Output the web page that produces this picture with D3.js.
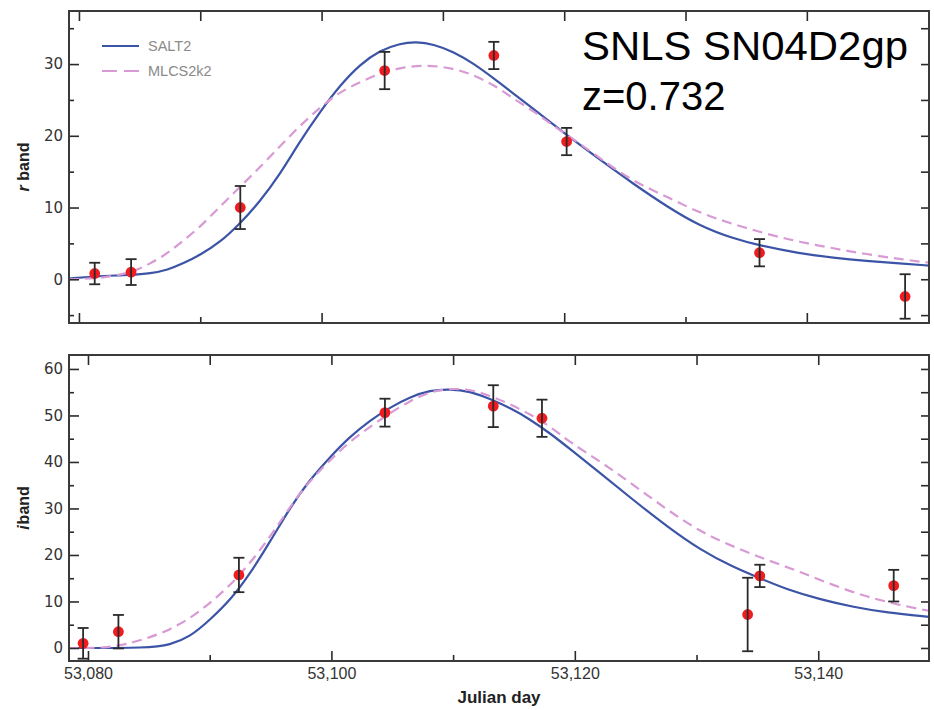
<!DOCTYPE html>
<html><head><meta charset="utf-8">
<script src="https://cdn.jsdelivr.net/npm/d3@7"></script>
<style>body{margin:0;background:#fff} svg{display:block;background:#fff}</style>
</head><body><svg id="c" width="934" height="710"></svg>
<script>
// ---------- DATA ----------
// r band observations
const rDays = [53081.3, 53084.3, 53093.3, 53105.2, 53114.2, 53120.2, 53136.1, 53148.1];
const rFlux = [0.8, 1.0, 10.0, 29.1, 31.2, 19.2, 3.7, -2.4];
const rErr  = [1.5, 1.8, 3.0, 2.6, 1.9, 1.9, 1.9, 3.1];
// i band observations
const iDays = [53079.6, 53082.5, 53092.4, 53104.4, 53113.3, 53117.3, 53134.2, 53135.2, 53146.2];
const iFlux = [1.0, 3.5, 15.7, 50.6, 52.0, 49.4, 7.2, 15.5, 13.4];
const iErr  = [3.3, 3.6, 3.7, 3.0, 4.5, 4.0, 7.9, 2.4, 3.4];

// r band model curves
const rSaltDays = [53079.2,53081.2,53084.3,53085.9,53087.3,53088.6,53090.0,53091.6,53093.3,53094.9,53096.6,53098.2,53099.9,53101.5,53103.2,53104.8,53106.5,53107.8,53109.2,53110.9,53112.5,53114.2,53115.8,53117.5,53119.1,53120.2,53123.0,53125.7,53128.5,53131.2,53133.9,53136.1,53139.4,53142.2,53144.9,53147.7,53150.1];
const rSaltFlux = [0.1,0.4,0.6,0.8,1.3,2.2,3.4,5.1,7.8,10.8,14.7,19.2,23.4,27.0,30.0,31.9,32.9,33.1,32.8,31.7,30.1,28.0,25.9,23.7,21.6,20.1,16.6,13.3,10.1,7.4,5.7,4.7,3.6,3.0,2.55,2.2,1.9];
const rMlcsDays = [53079.2,53081.7,53084.3,53085.9,53087.3,53088.6,53090.0,53091.6,53093.3,53095.5,53097.7,53099.9,53101.5,53103.2,53104.8,53106.5,53108.7,53110.9,53112.5,53114.2,53115.8,53117.5,53119.1,53121.3,53123.0,53125.7,53128.5,53131.2,53133.9,53136.7,53139.4,53142.2,53144.9,53147.7,53150.1];
const rMlcsFlux = [0.0,0.1,0.9,2.2,3.6,5.4,7.3,10.1,12.9,16.6,20.6,24.0,26.1,27.5,28.7,29.5,29.9,29.4,28.5,27.1,25.2,23.4,21.4,18.9,16.8,13.6,11.5,9.2,7.7,6.3,5.2,4.3,3.5,2.8,2.3];

// i band model curves
const iSaltDays = [53078.4,53085.1,53086.7,53088.4,53090.0,53091.7,53093.3,53095.0,53096.6,53098.2,53099.9,53101.5,53103.2,53104.8,53106.5,53108.1,53109.7,53111.4,53113.0,53114.7,53116.3,53118.0,53119.6,53122.1,53124.8,53127.6,53130.3,53133.0,53135.2,53137.4,53140.2,53142.9,53145.6,53149.1];
const iSaltFlux = [0.0,0.0,0.65,2.4,6.0,10.3,15.9,23.0,30.2,36.1,41.1,45.4,49.0,51.7,54.0,55.4,55.7,55.2,53.6,51.6,49.2,46.1,42.8,37.6,31.8,26.1,21.1,17.4,15.0,12.6,10.4,8.8,7.6,6.7];
const iMlcsDays = [53078.4,53081.8,53083.7,53085.1,53086.7,53088.4,53090.0,53091.7,53093.3,53095.0,53096.6,53098.2,53099.9,53101.5,53103.2,53104.8,53106.5,53108.1,53109.7,53111.4,53113.0,53114.7,53116.3,53118.0,53119.6,53122.1,53124.8,53127.6,53130.3,53133.0,53135.8,53138.5,53141.2,53144.0,53146.7,53149.1];
const iMlcsFlux = [0.0,0.0,1.2,2.3,3.9,6.4,9.6,13.5,18.2,24.0,30.4,35.9,40.4,44.4,47.6,50.5,53.2,55.1,55.8,55.6,54.3,52.4,50.3,47.6,44.2,40.1,35.1,29.7,25.0,21.8,18.9,16.4,13.5,11.0,9.2,8.0];

// ticks
const xTickValues = [53080, 53090, 53100, 53110, 53120, 53130, 53140];
const xLabelValues = [53080, 53100, 53120, 53140];
const rMajor = [0, 10, 20, 30];
const rMinor = [-5, 5, 15, 25, 35];
const iMajor = [0, 10, 20, 30, 40, 50, 60];
const iMinor = [5, 15, 25, 35, 45, 55];
const seriesNames = ["SALT2", "MLCS2k2"];

// ---------- LAYOUT ----------
const svg = d3.select("#c");
const L = 69, R = 929;
const blue = "#3b54a6", pink = "#d89ad4", red = "#f01c20", ink = "#2a2a2a";
const tickFont = "DejaVu Sans, sans-serif";

const panels = [
  { top: 11, bottom: 323, xDom: [53079.18, 53150.07], yDom: [-6.1, 37.4],
    major: rMajor, minor: rMinor, days: rDays, flux: rFlux, err: rErr,
    salt: [rSaltDays, rSaltFlux], mlcs: [rMlcsDays, rMlcsFlux], labels: false, id: "r" },
  { top: 355, bottom: 661, xDom: [53078.44, 53149.1], yDom: [-2.8, 63.0],
    major: iMajor, minor: iMinor, days: iDays, flux: iFlux, err: iErr,
    salt: [iSaltDays, iSaltFlux], mlcs: [iMlcsDays, iMlcsFlux], labels: true, id: "i" }
];

panels.forEach(p => {
  const x = d3.scaleLinear().domain(p.xDom).range([L, R]);
  const y = d3.scaleLinear().domain(p.yDom).range([p.bottom, p.top]);
  const g = svg.append("g");

  g.append("clipPath").attr("id", "clip-" + p.id)
    .append("rect").attr("x", L).attr("y", p.top).attr("width", R - L).attr("height", p.bottom - p.top);

  const line = d3.line().x(d => x(d[0])).y(d => y(d[1])).curve(d3.curveBasis);
  const plot = g.append("g").attr("clip-path", `url(#clip-${p.id})`);
  plot.append("path").datum(d3.zip(p.salt[0], p.salt[1])).attr("d", line)
    .attr("fill", "none").attr("stroke", blue).attr("stroke-width", 2.2);
  plot.append("path").datum(d3.zip(p.mlcs[0], p.mlcs[1])).attr("d", line)
    .attr("fill", "none").attr("stroke", pink).attr("stroke-width", 2.2).attr("stroke-dasharray", "10,6");

  const pts = d3.range(p.days.length).map(i => ({ d: p.days[i], v: p.flux[i], e: p.err[i] }));
  plot.selectAll("circle.pt").data(pts).join("circle").attr("class", "pt")
    .attr("cx", d => x(d.d)).attr("cy", d => y(d.v)).attr("r", 5.4).attr("fill", red);
  const eb = plot.selectAll("g.eb").data(pts).join("g").attr("class", "eb")
    .attr("stroke", ink).attr("stroke-width", 1.8).attr("fill", "none");
  eb.append("line").attr("x1", d => x(d.d)).attr("x2", d => x(d.d))
    .attr("y1", d => y(d.v - d.e)).attr("y2", d => y(d.v + d.e));
  eb.append("line").attr("x1", d => x(d.d) - 5.5).attr("x2", d => x(d.d) + 5.5)
    .attr("y1", d => y(d.v - d.e)).attr("y2", d => y(d.v - d.e));
  eb.append("line").attr("x1", d => x(d.d) - 5.5).attr("x2", d => x(d.d) + 5.5)
    .attr("y1", d => y(d.v + d.e)).attr("y2", d => y(d.v + d.e));

  // axes
  const styleAx = sel => {
    sel.select(".domain").remove();
    sel.selectAll(".tick line").attr("stroke", ink).attr("stroke-width", 1.6);
    sel.selectAll(".tick text").attr("fill", "#333").attr("font-family", tickFont).attr("font-size", 15);
  };
  g.append("g").attr("transform", `translate(${L},0)`)
    .call(d3.axisLeft(y).tickValues(p.major).tickSizeInner(-10).tickSizeOuter(0).tickPadding(6)).call(styleAx);
  g.append("g").attr("transform", `translate(${L},0)`)
    .call(d3.axisLeft(y).tickValues(p.minor).tickSizeInner(-5).tickSizeOuter(0).tickFormat("")).call(styleAx);
  g.append("g").attr("transform", `translate(${R},0)`)
    .call(d3.axisRight(y).tickValues(p.major.concat(p.minor)).tickSizeInner(-8).tickSizeOuter(0).tickFormat("")).call(styleAx);
  g.append("g").attr("transform", `translate(0,${p.top})`)
    .call(d3.axisTop(x).tickValues(xTickValues).tickSizeInner(-10).tickSizeOuter(0).tickFormat("")).call(styleAx);
  g.append("g").attr("transform", `translate(0,${p.bottom})`)
    .call(d3.axisBottom(x).tickValues(xTickValues.filter(v => !xLabelValues.includes(v))).tickSizeInner(-6).tickSizeOuter(0).tickFormat("")).call(styleAx);
  const bx = g.append("g").attr("transform", `translate(0,${p.bottom})`)
    .call(d3.axisBottom(x).tickValues(xLabelValues).tickSizeInner(-10).tickSizeOuter(0).tickPadding(7)
      .tickFormat(p.labels ? d3.format(",") : "")).call(styleAx);
  bx.selectAll(".tick text").attr("font-family", "Liberation Sans, Arial, sans-serif").attr("font-size", 16);

  g.append("rect").attr("x", L).attr("y", p.top).attr("width", R - L).attr("height", p.bottom - p.top)
    .attr("fill", "none").attr("stroke", "#3a3a3a").attr("stroke-width", 2);
});

// y-axis titles
const yt1 = svg.append("text").attr("transform", "translate(29,167) rotate(-90)")
  .attr("text-anchor", "middle").attr("font-family", "Liberation Sans, Arial, sans-serif")
  .attr("font-weight", "bold").attr("font-size", 16).attr("fill", "#222");
yt1.append("tspan").attr("font-style", "italic").text("r");
yt1.append("tspan").text(" band");
const yt2 = svg.append("text").attr("transform", "translate(29,508) rotate(-90)")
  .attr("text-anchor", "middle").attr("font-family", "Liberation Sans, Arial, sans-serif")
  .attr("font-weight", "bold").attr("font-size", 16).attr("fill", "#222");
yt2.append("tspan").attr("font-style", "italic").text("i");
yt2.append("tspan").attr("dx", 1).text("band");

// x-axis title
svg.append("text").attr("x", 499).attr("y", 703).attr("text-anchor", "middle")
  .attr("font-family", "Liberation Sans, Arial, sans-serif").attr("font-weight", "bold")
  .attr("font-size", 17).attr("fill", "#222").text("Julian day");

// legend
const leg = svg.append("g");
seriesNames.forEach((n, i) => {
  const yy = 46 + i * 25;
  leg.append("line").attr("x1", 102).attr("x2", 139).attr("y1", yy).attr("y2", yy)
    .attr("stroke", i === 0 ? blue : pink).attr("stroke-width", 2)
    .attr("stroke-dasharray", i === 0 ? null : "15,7");
  leg.append("text").attr("x", 148).attr("y", yy).attr("dy", "0.35em")
    .attr("font-family", "Liberation Sans, Arial, sans-serif").attr("font-size", 14.5)
    .attr("fill", "#8a8a8a").text(n);
});

// annotation
svg.append("text").attr("x", 582).attr("y", 60).attr("font-family", "Liberation Sans, Arial, sans-serif")
  .attr("font-size", 40).attr("fill", "#000").attr("textLength", 326).attr("lengthAdjust", "spacingAndGlyphs")
  .text("SNLS SN04D2gp");
svg.append("text").attr("x", 582).attr("y", 110).attr("font-family", "Liberation Sans, Arial, sans-serif")
  .attr("font-size", 40).attr("fill", "#000").text("z=0.732");
</script>
</body></html>
